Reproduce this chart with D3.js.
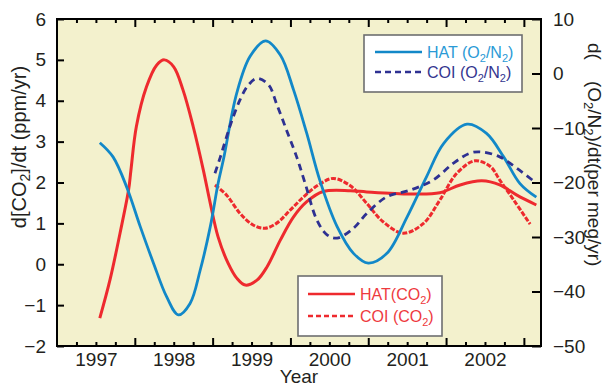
<!DOCTYPE html>
<html>
<head>
<meta charset="utf-8">
<script src="https://cdn.jsdelivr.net/npm/d3@7"></script>
<style>
  html, body { margin: 0; padding: 0; background: #ffffff; }
  svg { display: block; }
  text { font-family: "Liberation Sans", Arial, Helvetica, sans-serif; fill: #231f20; }
</style>
</head>
<body>
<svg id="chart" width="605" height="386"></svg>
<script>
// Tick labels
const yearLabels = [1997, 1998, 1999, 2000, 2001, 2002];
const leftTicks = [-2, -1, 0, 1, 2, 3, 4, 5, 6];
const rightTicks = [-50, -40, -30, -20, -10, 0, 10];

// HAT d[CO2]/dt (ppm/yr), left axis
const hatCo2Year = [1997.05, 1997.18, 1997.31, 1997.42, 1997.45, 1997.52, 1997.65, 1997.78, 1997.88, 1998.00,
  1998.12, 1998.25, 1998.38, 1998.47, 1998.57, 1998.70, 1998.81, 1998.92, 1999.07, 1999.20,
  1999.37, 1999.54, 1999.71, 1999.92, 2000.27, 2000.48, 2001.04, 2001.42, 2001.68, 2001.96,
  2002.19, 2002.41, 2002.66];
const hatCo2 = [-1.32, -0.39, 0.76, 1.82, 2.30, 3.37, 4.34, 4.87, 5.00, 4.83,
  4.26, 3.37, 2.31, 1.49, 0.67, 0.02, -0.34, -0.51, -0.39, -0.06,
  0.59, 1.16, 1.53, 1.78, 1.80, 1.77, 1.72, 1.75, 1.94, 2.04,
  1.94, 1.69, 1.45];

// COI d[CO2]/dt (ppm/yr), left axis
const coiCo2Year = [1998.53, 1998.68, 1998.85, 1999.02, 1999.17, 1999.32, 1999.50, 1999.67, 1999.86, 2000.05,
  2000.27, 2000.48, 2000.69, 2000.95, 2001.21, 2001.42, 2001.64, 2001.87, 2002.07, 2002.19,
  2002.37, 2002.58];
const coiCo2 = [1.94, 1.69, 1.25, 0.96, 0.88, 1.00, 1.33, 1.65, 1.94, 2.10,
  1.92, 1.49, 1.04, 0.76, 1.00, 1.57, 2.23, 2.53, 2.39, 2.06,
  1.57, 0.98];

// HAT d(O2/N2)/dt (per meg/yr), right axis
const hatO2Year = [1997.05, 1997.22, 1997.40, 1997.57, 1997.74, 1997.91, 1998.06, 1998.21, 1998.34, 1998.47,
  1998.57, 1998.64, 1998.81, 1998.98, 1999.18, 1999.37, 1999.54, 1999.71, 1999.88, 2000.10,
  2000.31, 2000.50, 2000.74, 2001.00, 2001.25, 2001.47, 2001.77, 2002.02, 2002.24, 2002.45,
  2002.66];
const hatO2 = [-12.7, -15.3, -21.0, -28.1, -34.8, -41.0, -44.3, -42.2, -36.1, -28.1,
  -20.2, -15.7, -3.6, 3.1, 6.0, 3.4, -3.0, -11.0, -19.7, -28.1,
  -33.0, -34.8, -33.0, -26.3, -18.9, -12.8, -9.3, -11.0, -15.3, -20.2,
  -22.7];

// COI d(O2/N2)/dt (per meg/yr), right axis
const coiO2Year = [1998.53, 1998.60, 1998.72, 1998.85, 1998.96, 1999.07, 1999.22, 1999.32, 1999.45, 1999.58,
  1999.69, 1999.84, 1999.97, 2000.10, 2000.31, 2000.48, 2000.74, 2001.04, 2001.34, 2001.59,
  2001.81, 2001.96, 2002.19, 2002.41, 2002.64];
const coiO2 = [-18.3, -15.3, -9.8, -4.9, -2.1, -0.9, -2.1, -5.5, -10.4, -15.3,
  -20.2, -26.9, -29.6, -30.2, -28.4, -25.7, -22.6, -21.4, -19.5, -16.5,
  -14.6, -14.4, -15.3, -17.4, -19.9];

const plot = { left: 57, right: 541, top: 19, bottom: 346 };

const colRed = "#ee2a2e";
const colBlue = "#1288c8";
const colNavy = "#2e3192";
const bgFill = "#f3f1cd";

const svg = d3.select("#chart");

const x = d3.scaleLinear().domain([1996.5, 2002.72]).range([plot.left, plot.right]);
const yL = d3.scaleLinear().domain([-2, 6]).range([plot.bottom, plot.top]);
const yR = d3.scaleLinear().domain([-50, 10]).range([plot.bottom, plot.top]);

// plot background
svg.append("rect")
  .attr("x", plot.left).attr("y", plot.top)
  .attr("width", plot.right - plot.left).attr("height", plot.bottom - plot.top)
  .attr("fill", bgFill);

svg.append("clipPath").attr("id", "clip")
  .append("rect")
  .attr("x", plot.left).attr("y", plot.top)
  .attr("width", plot.right - plot.left).attr("height", plot.bottom - plot.top);

const curves = svg.append("g").attr("clip-path", "url(#clip)");

function drawSeries(years, vals, yScale, color, width, dash) {
  const pts = years.map((t, i) => [t, vals[i]]);
  const line = d3.line()
    .x(d => x(d[0]))
    .y(d => yScale(d[1]))
    .curve(d3.curveCatmullRom.alpha(0.5));
  curves.append("path")
    .datum(pts)
    .attr("d", line)
    .attr("fill", "none")
    .attr("stroke", color)
    .attr("stroke-width", width)
    .attr("stroke-dasharray", dash || null)
    .attr("stroke-linecap", "butt")
    .attr("stroke-linejoin", "round");
}

drawSeries(hatCo2Year, hatCo2, yL, colRed, 3);
drawSeries(coiCo2Year, coiCo2, yL, colRed, 3, "5,1.6");
drawSeries(hatO2Year, hatO2, yR, colBlue, 2.8);
drawSeries(coiO2Year, coiO2, yR, colNavy, 2.8, "7,5");

// tick positions on the time axis
const majorX = d3.range(1997.5, 2002.6, 1);
const minorX = d3.range(1996.75, 2002.72, 0.25).filter(v => Math.abs((v % 1) - 0.5) > 1e-6);

function styleAxis(g) {
  g.select(".domain").remove();
  g.selectAll(".tick line").attr("stroke", "#000").attr("stroke-width", 2);
  g.selectAll(".tick text").style("font-size", "19px").attr("fill", "#231f20");
}

// bottom ticks (inward)
svg.append("g").attr("transform", `translate(0,${plot.bottom})`)
  .call(d3.axisBottom(x).tickValues(majorX).tickSizeInner(-8).tickSizeOuter(0).tickFormat(""))
  .call(styleAxis);
svg.append("g").attr("transform", `translate(0,${plot.bottom})`)
  .call(d3.axisBottom(x).tickValues(minorX).tickSizeInner(-4).tickSizeOuter(0).tickFormat(""))
  .call(styleAxis);
// year labels
svg.append("g").attr("transform", `translate(0,${plot.bottom})`)
  .call(d3.axisBottom(x).tickValues(yearLabels).tickSize(0).tickPadding(7).tickFormat(d3.format("d")))
  .call(styleAxis)
  .call(g => g.selectAll(".tick line").remove());

// top ticks (inward)
svg.append("g").attr("transform", `translate(0,${plot.top})`)
  .call(d3.axisTop(x).tickValues(majorX).tickSizeInner(-8).tickSizeOuter(0).tickFormat(""))
  .call(styleAxis);
svg.append("g").attr("transform", `translate(0,${plot.top})`)
  .call(d3.axisTop(x).tickValues(minorX).tickSizeInner(-4).tickSizeOuter(0).tickFormat(""))
  .call(styleAxis);

// left axis
svg.append("g").attr("transform", `translate(${plot.left},0)`)
  .call(d3.axisLeft(yL).tickValues(leftTicks).tickSizeInner(-7).tickSizeOuter(0).tickPadding(11).tickFormat(d3.format("d")))
  .call(styleAxis);

// right axis
svg.append("g").attr("transform", `translate(${plot.right},0)`)
  .call(d3.axisRight(yR).tickValues(rightTicks).tickSizeInner(-9).tickSizeOuter(0).tickPadding(12).tickFormat(d3.format("d")))
  .call(styleAxis);

// frame
svg.append("rect")
  .attr("x", plot.left).attr("y", plot.top)
  .attr("width", plot.right - plot.left).attr("height", plot.bottom - plot.top)
  .attr("fill", "none").attr("stroke", "#000").attr("stroke-width", 2);

// text with subscript pieces: parts = [[text, isSub, dx], ...]
function richText(sel, parts, subSize, fill) {
  let lowered = false;
  parts.forEach(([s, sub, dx]) => {
    const t = sel.append("tspan").text(s);
    if (fill) t.attr("fill", fill);
    if (dx) t.attr("dx", dx);
    if (sub) {
      t.attr("dy", "0.3em").style("font-size", subSize + "px");
      lowered = true;
    } else if (lowered) {
      t.attr("dy", (-0.3 * subSize) + "px");
      lowered = false;
    }
  });
}

// axis titles
svg.append("text")
  .attr("x", (plot.left + plot.right) / 2).attr("y", 383)
  .attr("text-anchor", "middle").style("font-size", "19px")
  .text("Year");

const leftTitle = svg.append("text")
  .attr("transform", "translate(26,147) rotate(-90)")
  .attr("text-anchor", "middle").style("font-size", "20px");
richText(leftTitle, [["d[CO", false], ["2", true], ["]/dt (ppm/yr)", false]], 14);

const rightTitle = svg.append("text")
  .attr("transform", "translate(588,43) rotate(90)")
  .attr("text-anchor", "start").style("font-size", "19px");
richText(rightTitle, [["d(", false], ["(O", false, 21], ["2", true], ["/N", false], ["2", true], [")/dt(per meg/yr)", false]], 13);

// legends
function legendBox(x0, y0, w, h) {
  svg.append("rect")
    .attr("x", x0).attr("y", y0).attr("width", w).attr("height", h)
    .attr("fill", "#ffffff").attr("stroke", "#6d6e70").attr("stroke-width", 1.6);
}

function legendItem(x1, x2, y, color, dash, label, textColor) {
  svg.append("line")
    .attr("x1", x1).attr("x2", x2).attr("y1", y).attr("y2", y)
    .attr("stroke", color).attr("stroke-width", 2.6)
    .attr("stroke-dasharray", dash || null);
  const t = svg.append("text")
    .attr("x", x2 + 5).attr("y", y + 6.3)
    .style("font-size", "16px").attr("fill", textColor);
  richText(t, label, 11, textColor);
}

legendBox(364, 35, 158, 57);
legendItem(375, 422, 52, colBlue, null, [["HAT (O", false], ["2", true], ["/N", false], ["2", true], [")", false]], "#2a9ad6");
legendItem(375, 422, 72, colNavy, "6,4", [["COI (O", false], ["2", true], ["/N", false], ["2", true], [")", false]], "#34358f");

legendBox(298, 276, 144, 60);
legendItem(308, 355, 294, colRed, null, [["HAT(CO", false], ["2", true], [")", false]], "#ee3a3e");
legendItem(308, 355, 316, colRed, "5,3", [["COI (CO", false], ["2", true], [")", false]], "#ee3a3e");
</script>
</body>
</html>
